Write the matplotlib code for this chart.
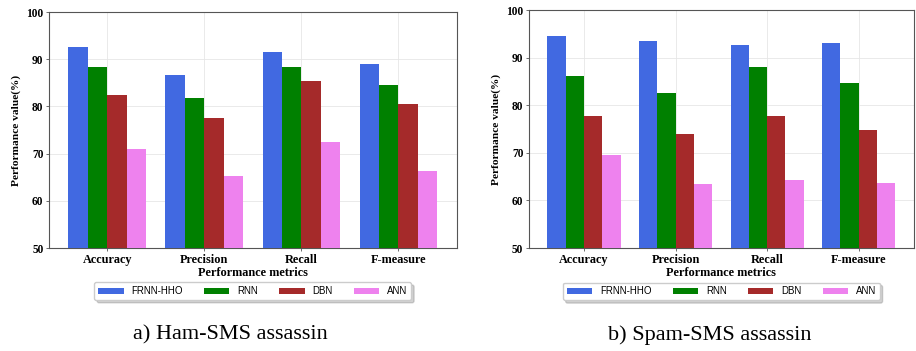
import numpy as np
import matplotlib
matplotlib.use("Agg")
import matplotlib.pyplot as plt

metrics = ["Accuracy", "Precision", "Recall", "F-measure"]
models = ["FRNN-HHO", "RNN", "DBN", "ANN"]
colors = ["royalblue", "green", "brown", "violet"]

# a) Ham-SMS assassin
ham_frnn = [92.7, 86.6, 91.6, 89.0]
ham_rnn = [88.4, 81.9, 88.4, 84.5]
ham_dbn = [82.5, 77.6, 85.5, 80.5]
ham_ann = [71.0, 65.2, 72.4, 66.3]

# b) Spam-SMS assassin
spam_frnn = [94.5, 93.5, 92.7, 93.1]
spam_rnn = [86.1, 82.6, 88.1, 84.6]
spam_dbn = [77.8, 74.0, 77.8, 74.9]
spam_ann = [69.5, 63.5, 64.2, 63.7]

panels = [
    ("a) Ham-SMS assassin", [ham_frnn, ham_rnn, ham_dbn, ham_ann],
     [0.0535, 0.2934, 0.445, 0.672], 0.251),
    ("b) Spam-SMS assassin", [spam_frnn, spam_rnn, spam_dbn, spam_ann],
     [0.5775, 0.2934, 0.42, 0.678], 0.775),
]

serif = "Liberation Serif"
sans = "Liberation Sans"

fig = plt.figure(figsize=(9.16, 3.51), dpi=100)
x = np.arange(len(metrics))
w = 0.2

for caption, series, rect, cx in panels:
    ax = fig.add_axes(rect)
    for i, (vals, name, c) in enumerate(zip(series, models, colors)):
        ax.bar(x + (i - 1.5) * w, vals, w, color=c, label=name, zorder=3)
    ax.set_ylim(50, 100)
    ax.set_xlim(-0.6, 3.6)
    ax.set_xticks(x)
    ax.set_xticklabels(metrics, fontfamily=serif, fontweight="bold", fontsize=8.8)
    ax.set_yticks([50, 60, 70, 80, 90, 100])
    for lab in ax.get_yticklabels():
        lab.set_fontfamily(serif)
        lab.set_fontweight("bold")
        lab.set_fontsize(8.3)
    ax.tick_params(length=2, width=0.6, color="#555555", pad=2)
    ax.grid(True, color="#e6e6e6", linewidth=0.6, zorder=0)
    for s in ax.spines.values():
        s.set_color("#555555")
        s.set_linewidth(0.8)
    ax.set_xlabel("Performance metrics", fontfamily=serif, fontweight="bold", fontsize=8.8, labelpad=1)
    ax.set_ylabel("Performance value(%)", fontfamily=serif, fontweight="bold", fontsize=8.2, labelpad=4)
    ax.legend(loc="upper center", bbox_to_anchor=(0.5, -0.145), ncol=4, borderaxespad=0,
              prop={"family": sans, "size": 7}, frameon=True, fancybox=True,
              shadow={"color": "gray", "alpha": 0.35}, handlelength=2.6,
              columnspacing=2.2, borderpad=0.4, handleheight=0.6)
    fig.text(cx, 0.045, caption, ha="center", va="center", fontfamily=serif, fontsize=16)

fig.savefig("out.png", dpi=100)
